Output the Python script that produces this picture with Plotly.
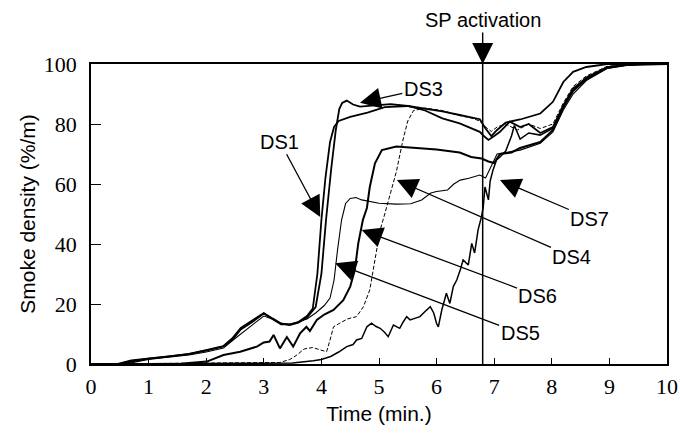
import plotly.graph_objects as go

# ---- data (time in minutes, smoke density in %/m) ----
ds1_t = [0, 0.45, 0.7, 1.0, 1.3, 1.7, 2.0, 2.3, 2.45, 2.6, 2.8, 3.0, 3.15, 3.3, 3.45, 3.6, 3.75, 3.85, 3.93, 4.0,
         4.07, 4.15, 4.22, 4.3, 4.5, 4.8, 5.1, 5.5, 5.8, 6.1, 6.4, 6.6, 6.75, 6.82, 6.9, 7.0, 7.1, 7.27, 7.45, 7.6,
         7.8, 8.02, 8.2, 8.37, 8.6, 8.96, 9.3, 9.6, 10]
ds1_v = [0, 0, 1.2, 1.8, 2.4, 3.3, 4.5, 5.9, 8, 11.5, 14, 16.8, 15, 13.2, 13.2, 14, 16, 18.5, 30, 48,
         62, 74, 79, 81, 82.4, 83.8, 85.6, 86, 84.5, 81.9, 80.2, 78.5, 77.4, 76, 74.7, 76, 77.4, 80.8, 79, 80,
         77, 79, 86, 91.5, 95.5, 99, 99.8, 100, 100]

ds3_t = [0, 0.5, 0.75, 1.0, 1.3, 1.7, 2.0, 2.3, 2.45, 2.6, 2.8, 3.0, 3.15, 3.3, 3.45, 3.6, 3.75, 3.9, 4.0, 4.08,
         4.17, 4.25, 4.31, 4.36, 4.44, 4.55, 4.67, 4.8, 4.96, 5.2, 5.5, 5.8, 6.1, 6.4, 6.6, 6.75, 6.85, 6.95, 7.05,
         7.2, 7.45, 7.8, 8.02, 8.2, 8.37, 8.6, 8.96, 10]
ds3_v = [0, 0, 1.0, 1.8, 2.4, 3.4, 4.6, 6.0, 8.5, 12, 14.5, 17, 15.2, 13.5, 13.0, 13.8, 15.5, 19, 30, 48,
         65, 78, 85, 87, 87.8, 86.5, 85.8, 86, 86.3, 86.6, 86, 85.2, 84.2, 83, 82.3, 81.6, 78.5, 76, 78,
         80.5, 81.5, 83.5, 87.4, 94, 97.4, 99, 100, 100]

ds4_t = [0, 3.28, 3.45, 3.56, 3.7, 3.85, 3.98, 4.09, 4.15, 4.21, 4.32, 4.45, 4.61, 4.73, 4.84, 4.93, 5.02, 5.1,
         5.2, 5.3, 5.42, 5.5, 5.6, 5.8, 6.1, 6.4, 6.6, 6.75, 6.85, 6.95, 7.05, 7.2, 7.4, 7.6, 7.8, 8.02, 8.2,
         8.37, 8.6, 8.96, 9.3, 10]
ds4_v = [0, 0.5, 1.5, 2.8, 5, 5.5, 4.7, 4.1, 8, 12.4, 13.6, 15, 15.8, 19.1, 24.7, 34.7, 44.7, 50,
         57, 64, 75, 81, 84.5, 85.3, 84.5, 82.8, 82, 81, 79, 77.5, 79, 80, 78, 80, 78.5, 80, 87,
         92.5, 96, 99.2, 99.8, 100]

ds5_t = [0, 0.6, 0.8, 1.0, 1.3, 1.7, 2.0, 2.3, 2.5, 2.7, 2.85, 3.0, 3.15, 3.3, 3.45, 3.6, 3.75, 3.9, 4.05, 4.15,
         4.22, 4.28, 4.35, 4.42, 4.5, 4.6, 4.7, 5.0, 5.3, 5.55, 5.74, 5.9, 6.0, 6.19, 6.3, 6.41, 6.56, 6.75,
         6.85, 6.95, 7.05, 7.2, 7.45, 7.8, 8.02, 8.2, 8.37, 8.6, 8.96, 9.3, 9.6, 10]
ds5_v = [0, 0, 0.8, 1.5, 2.2, 3.0, 4.0, 5.3, 8.5, 11.5, 13.5, 16, 15, 13.5, 13.2, 14, 15, 17, 19.5, 22,
         28, 38, 48, 53.5, 55.2, 55.5, 54.7, 53.6, 53.3, 53.4, 54.7, 57, 57.5, 58, 60, 61.3, 61.9, 63,
         62, 66, 70, 70.5, 71.3, 73.6, 77.4, 84.7, 90, 94.5, 98.5, 99.6, 100, 100]

ds6_t = [0, 1.55, 1.7, 2.01, 2.3, 2.59, 2.88, 3.0, 3.1, 3.17, 3.28, 3.4, 3.51, 3.63, 3.74, 3.8, 3.92, 4.05, 4.21,
         4.38, 4.5, 4.58, 4.64, 4.72, 4.79, 4.84, 4.93, 5.05, 5.3, 5.6, 6.0, 6.4, 6.6, 6.78, 6.9, 7.0, 7.1,
         7.3, 7.45, 7.8, 8.02, 8.2, 8.37, 8.6, 8.96, 9.3, 10]
ds6_v = [0, 0, 0.3, 0.8, 3, 4.1, 5.8, 7.2, 7.5, 9.7, 5.2, 9, 5.8, 10.2, 12.4, 11, 14.7, 16.5, 18,
         21.3, 25.8, 31.3, 40.2, 48, 52, 59, 66.9, 71.3, 72.5, 72, 71.5, 70.5, 69, 68.5, 67.5, 67, 70,
         70.5, 72, 74, 78, 85.5, 91, 95, 98.7, 99.7, 100]

ds7_t = [0, 3.5, 3.86, 4.0, 4.16, 4.3, 4.44, 4.55, 4.61, 4.7, 4.79, 4.87, 4.95, 5.02, 5.1, 5.16, 5.25, 5.3, 5.36,
         5.42, 5.48, 5.54, 5.6, 5.71, 5.8, 5.89, 5.95, 6.0, 6.03, 6.09, 6.17, 6.23, 6.29, 6.35, 6.41, 6.46,
         6.55, 6.61, 6.66, 6.72, 6.78, 6.81, 6.84, 6.9, 6.93, 6.98, 7.04, 7.1, 7.2, 7.3, 7.35, 7.45, 7.6,
         7.8, 8.02, 8.2, 8.37, 8.6, 8.96, 9.3, 9.6, 10]
ds7_v = [0, 0.3, 1.1, 1.5, 2.5, 4, 5.8, 6.5, 8, 8.5, 12.4, 13.6, 12.5, 11.9, 10.5, 9.1, 13, 12.5, 11.9,
         14, 15.8, 14.7, 15, 15.8, 17.5, 19.1, 17, 13.5, 12.4, 18, 23.6, 20.2, 25.8, 28, 31.3, 34.7,
         33, 40.2, 37, 44.7, 49.1, 52.4, 59, 54.7, 61, 64.7, 68, 69, 71, 76, 79.5, 75, 77,
         76.3, 78.6, 86.3, 91.9, 95.2, 98.9, 99.7, 100, 100]

sp_time = 6.8
x_ticks = [0, 1, 2, 3, 4, 5, 6, 7, 8, 9, 10]
y_ticks = [0, 20, 40, 60, 80, 100]

# label name, arrow tip (t, v), text centre (t, v)
labels = [
    ("DS1", 3.98, 49.0, 3.28, 74.1),
    ("DS3", 4.67, 87.1, 5.77, 91.7),
    ("DS7", 7.10, 61.3, 8.66, 48.5),
    ("DS4", 5.31, 61.3, 8.35, 35.8),
    ("DS6", 4.70, 44.7, 7.76, 22.7),
    ("DS5", 4.24, 33.6, 7.45, 10.2),
]

series = [
    ("DS1", ds1_t, ds1_v, dict(width=1.8)),
    ("DS3", ds3_t, ds3_v, dict(width=1.8)),
    ("DS4", ds4_t, ds4_v, dict(width=1.0, dash="4px,2px")),
    ("DS5", ds5_t, ds5_v, dict(width=1.1)),
    ("DS6", ds6_t, ds6_v, dict(width=2.0)),
    ("DS7", ds7_t, ds7_v, dict(width=1.5)),
]

fig = go.Figure()
for name, t, v, ln in series:
    fig.add_trace(go.Scatter(x=t, y=v, mode="lines", name=name,
                             line=dict(color="black", **ln), showlegend=False))

fig.add_shape(type="line", x0=sp_time, x1=sp_time, y0=0, y1=100, xref="x", yref="y",
              line=dict(color="black", width=1.5))

fig.add_annotation(x=sp_time, y=100, xref="x", yref="y", text="SP activation",
                   showarrow=True, ax=0, ay=-44, arrowhead=2, arrowsize=3.0, arrowwidth=1.4,
                   arrowcolor="black", standoff=0,
                   font=dict(family="Liberation Sans, Arial", size=20, color="black"))

for name, xt, yt, xl, yl in labels:
    fig.add_annotation(x=xt, y=yt, xref="x", yref="y", ax=xl, ay=yl, axref="x", ayref="y",
                       text=name, showarrow=True, arrowhead=2, arrowsize=3.2, arrowwidth=1.3,
                       arrowcolor="black", standoff=0,
                       font=dict(family="Liberation Sans, Arial", size=20, color="black"))

fig.update_xaxes(range=[0, 10], tickvals=x_ticks, ticktext=[str(v) for v in x_ticks],
                 ticks="inside", ticklen=6, tickwidth=1.2, tickcolor="black",
                 showline=True, linecolor="black", linewidth=1.8, mirror=True,
                 showgrid=False, zeroline=False, automargin=False, ticklabelstandoff=2,
                 tickfont=dict(family="Liberation Serif, serif", size=22, color="black"),
                 title=dict(text="Time (min.)", standoff=8,
                            font=dict(family="Liberation Sans, Arial", size=21, color="black")))
fig.update_yaxes(range=[0, 100], tickvals=y_ticks, ticktext=[str(v) for v in y_ticks],
                 ticks="inside", ticklen=10, tickwidth=1.2, tickcolor="black",
                 showline=True, linecolor="black", linewidth=1.8, mirror=True,
                 showgrid=False, zeroline=False, automargin=False, ticklabelstandoff=8,
                 tickfont=dict(family="Liberation Serif, serif", size=22, color="black"),
                 title=dict(text="Smoke density (%/m)", standoff=2,
                            font=dict(family="Liberation Sans, Arial", size=21, color="black")))

fig.update_layout(width=680, height=437, margin=dict(l=91, r=13, t=64, b=73),
                  paper_bgcolor="white", plot_bgcolor="white")

fig.write_html("out.html", config={"displayModeBar": False},
               post_script="document.body.style.margin='0';document.body.style.overflow='hidden';")
